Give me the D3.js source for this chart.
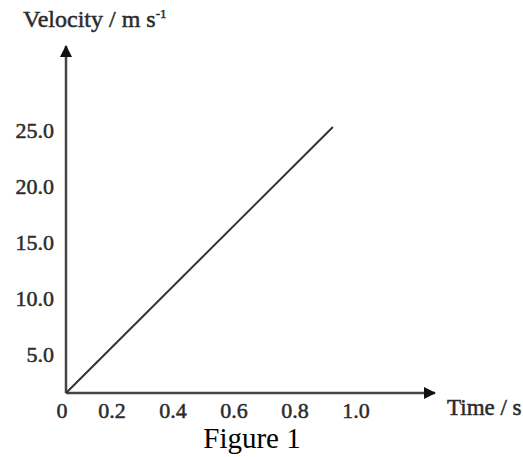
<!DOCTYPE html>
<html>
<head>
<meta charset="utf-8">
<script src="https://cdn.jsdelivr.net/npm/d3@7"></script>
<style>
  body { margin: 0; background: #fff; }
  text { font-family: "Liberation Serif", "Times New Roman", serif; fill: #2b2b2b; }
  .heavy { stroke: #2b2b2b; stroke-width: 0.5px; }
</style>
</head>
<body>
<script>
var width = 523,
    height = 457;

// data
var timeTicks = [0, 0.2, 0.4, 0.6, 0.8, 1.0];
var velTicks = [5, 10, 15, 20, 25];
var lineTime = [0, 0.875];
var lineVel = [0, 23.75];

var svg = d3.select("body").append("svg")
    .attr("width", width)
    .attr("height", height);

// scales start at the axis corner
var x = d3.scaleLinear().domain([0, 1]).range([66, 371]);
var y = d3.scaleLinear().domain([0, 25]).range([393, 113]);

// arrow heads
var defs = svg.append("defs");
defs.append("marker")
    .attr("id", "arrow")
    .attr("viewBox", "0 0 12 12")
    .attr("refX", 11)
    .attr("refY", 6)
    .attr("markerWidth", 12)
    .attr("markerHeight", 12)
    .attr("markerUnits", "userSpaceOnUse")
    .attr("orient", "auto")
    .append("path")
    .attr("d", "M0,0 L12,6 L0,12 Z")
    .attr("fill", "#111");

// axes
svg.append("line")
    .attr("x1", x(0)).attr("y1", y(0))
    .attr("x2", 435).attr("y2", y(0))
    .attr("stroke", "#444")
    .attr("stroke-width", 2.5)
    .attr("marker-end", "url(#arrow)");
svg.append("line")
    .attr("x1", x(0)).attr("y1", y(0))
    .attr("x2", x(0)).attr("y2", 46)
    .attr("stroke", "#444")
    .attr("stroke-width", 2.5)
    .attr("marker-end", "url(#arrow)");

// tick labels (no tick marks, labels sit off the tick positions)
svg.selectAll("text.xt")
    .data(timeTicks)
    .enter().append("text")
    .attr("class", "xt heavy")
    .attr("x", function (d) { return d === 0 ? 62 : x(d) - 15; })
    .attr("y", 418)
    .attr("text-anchor", "middle")
    .style("font-size", "22px")
    .text(function (d) { return d === 0 ? "0" : d.toFixed(1); });

svg.selectAll("text.yt")
    .data(velTicks)
    .enter().append("text")
    .attr("class", "yt heavy")
    .attr("x", 54)
    .attr("y", function (d) { return y(d) + 25; })
    .attr("text-anchor", "end")
    .style("font-size", "22px")
    .text(function (d) { return d.toFixed(1); });

// data line
var line = d3.line()
    .x(function (d) { return x(d[0]); })
    .y(function (d) { return y(d[1]); });
svg.append("path")
    .attr("d", line(d3.zip(lineTime, lineVel)))
    .attr("fill", "none")
    .attr("stroke", "#333")
    .attr("stroke-width", 2);

// axis titles
var yt = svg.append("text")
    .attr("class", "heavy")
    .attr("x", 23)
    .attr("y", 27)
    .style("font-size", "24px");
yt.append("tspan").text("Velocity / m s");
yt.append("tspan")
    .attr("dy", -9)
    .style("font-size", "13px")
    .text("-1");

svg.append("text")
    .attr("class", "heavy")
    .attr("x", 447)
    .attr("y", 415)
    .style("font-size", "23px")
    .text("Time / s");

svg.append("text")
    .attr("x", 252)
    .attr("y", 448)
    .attr("text-anchor", "middle")
    .style("font-size", "29px")
    .style("fill", "#000")
    .text("Figure 1");
</script>
</body>
</html>
